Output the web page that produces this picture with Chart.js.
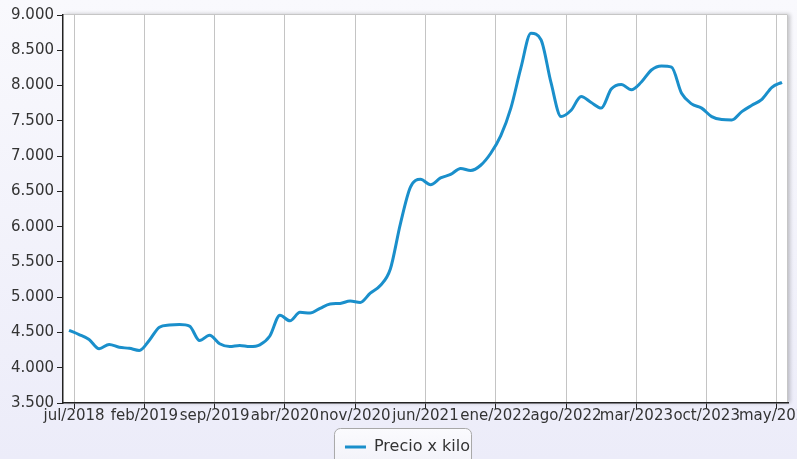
<!DOCTYPE html>
<html>
<head>
<meta charset="utf-8">
<script src="https://cdn.jsdelivr.net/npm/chart.js@4.4.1/dist/chart.umd.min.js"></script>
<style>
  html, body { margin: 0; padding: 0; }
  body { width: 797px; height: 459px; overflow: hidden; background: linear-gradient(#f9f9fd, #ececf9); }
  #wrap { position: relative; width: 797px; height: 459px; }
</style>
</head>
<body>
<div id="wrap"><canvas id="chart"></canvas></div>
<script>
// ─── DATA ─────────────────────────────────────────────────────────────────────
const seriesLabel = 'Precio x kilo';

// one value per month, jun/2018 .. may/2024
const prices = [
  4530, 4470, 4400, 4270, 4330, 4290, 4275, 4245, 4390, 4575,
  4605, 4612, 4590, 4385, 4460, 4340, 4300, 4315, 4300, 4325,
  4450, 4745, 4665, 4785, 4775, 4842, 4903, 4912, 4946, 4925,
  5057, 5165, 5400, 6040, 6560, 6670, 6595, 6690, 6740, 6825,
  6795, 6870, 7040, 7290, 7680, 8250, 8740, 8650, 8040, 7560,
  7650, 7845, 7760, 7680, 7950, 8015, 7940, 8050, 8220, 8277,
  8260, 7890, 7740, 7680, 7560, 7518, 7512, 7630, 7720, 7805,
  7975, 8046
];

// months counted from jul/2018
const tickMonths = [0, 7, 14, 21, 28, 35, 42, 49, 56, 63, 70];
const tickLabels = [
  'jul/2018', 'feb/2019', 'sep/2019', 'abr/2020', 'nov/2020', 'jun/2021',
  'ene/2022', 'ago/2022', 'mar/2023', 'oct/2023', 'may/2024'
];

const yMin = 3500;
const yMax = 9000;
const yStep = 500;

// ─── HELPERS ──────────────────────────────────────────────────────────────────
const fmt = v => String(v).replace(/\B(?=(\d{3})+(?!\d))/g, '.');
const FONT = 'DejaVu Sans, Verdana, sans-serif';

const plotFrame = {
  id: 'plotFrame',
  afterLayout(chart) {
    // legend sits a bit right of the canvas centre
    const lg = chart.legend;
    if (lg) { lg.left += 13.5; lg.right += 13.5; }
  },
  beforeDraw(chart) {
    const { ctx, chartArea: a } = chart;
    ctx.save();
    ctx.shadowColor = 'rgba(0,0,0,0.22)';
    ctx.shadowBlur = 4;
    ctx.shadowOffsetX = 2;
    ctx.fillStyle = '#ffffff';
    ctx.fillRect(a.left, a.top - 1, a.right - a.left, a.bottom - a.top + 1);
    ctx.restore();

    ctx.save();
    ctx.strokeStyle = '#c6c6c6';
    ctx.lineWidth = 1;
    ctx.beginPath();
    ctx.moveTo(a.left, a.top - 0.5);
    ctx.lineTo(a.right - 0.5, a.top - 0.5);
    ctx.lineTo(a.right - 0.5, a.bottom);
    ctx.stroke();
    ctx.restore();

    // rounded box behind the legend
    const lg = chart.legend;
    const hb = lg && lg.legendHitBoxes && lg.legendHitBoxes[0];
    if (hb) {
      const x = hb.left - 11, y = hb.top - 11, w = hb.width + 12, h = 50;
      ctx.save();
      const g = ctx.createLinearGradient(0, y, 0, y + h);
      g.addColorStop(0, '#fbfbfe');
      g.addColorStop(1, '#efeff7');
      ctx.fillStyle = g;
      ctx.strokeStyle = '#a8a8a8';
      ctx.lineWidth = 1;
      ctx.beginPath();
      ctx.roundRect(x + 0.5, y + 0.5, w, h, 6);
      ctx.fill();
      ctx.stroke();
      ctx.restore();
    }
  }
};

// ─── CHART ────────────────────────────────────────────────────────────────────
new Chart(document.getElementById('chart'), {
  type: 'line',
  data: {
    datasets: [{
      label: seriesLabel,
      data: prices.map((v, i) => ({ x: i - 0.5, y: v })),
      borderColor: '#1a8fcb',
      backgroundColor: '#1a8fcb',
      borderWidth: 3,
      pointRadius: 0,
      cubicInterpolationMode: 'monotone',
      fill: false
    }]
  },
  options: {
    responsive: true,
    maintainAspectRatio: false,
    animation: false,
    layout: { padding: { left: 0, right: 9, top: 15, bottom: -6 } },
    plugins: {
      tooltip: { enabled: false },
      legend: {
        position: 'bottom',
        labels: {
          usePointStyle: true,
          pointStyle: 'line',
          pointStyleWidth: 21,
          boxHeight: 16,
          padding: 4,
          color: '#333',
          font: { family: FONT, size: 16 }
        }
      }
    },
    scales: {
      x: {
        type: 'linear',
        min: -1.1,
        max: 71.1,
        afterBuildTicks: s => { s.ticks = tickMonths.map(v => ({ value: v })); },
        afterFit: s => { s.height = 32; s.paddingLeft = 0; s.paddingRight = 0; },
        ticks: {
          autoSkip: false,
          maxRotation: 0,
          padding: -2,
          color: '#333',
          font: { family: FONT, size: 15 },
          callback: v => tickLabels[tickMonths.indexOf(v)]
        },
        grid: { color: '#c4c4c4', tickColor: '#222', tickLength: 6, lineWidth: 1 },
        border: { color: '#222', width: 1.5 }
      },
      y: {
        min: yMin,
        max: yMax,
        afterFit: s => { s.width = 63; s.paddingTop = 0; s.paddingBottom = 0; },
        ticks: {
          stepSize: yStep,
          padding: 3,
          color: '#333',
          font: { family: FONT, size: 15 },
          callback: v => fmt(v)
        },
        grid: { drawOnChartArea: false, tickColor: '#222', tickLength: 6 },
        border: { color: '#222', width: 1.5 }
      }
    }
  },
  plugins: [plotFrame]
});
</script>
</body>
</html>
